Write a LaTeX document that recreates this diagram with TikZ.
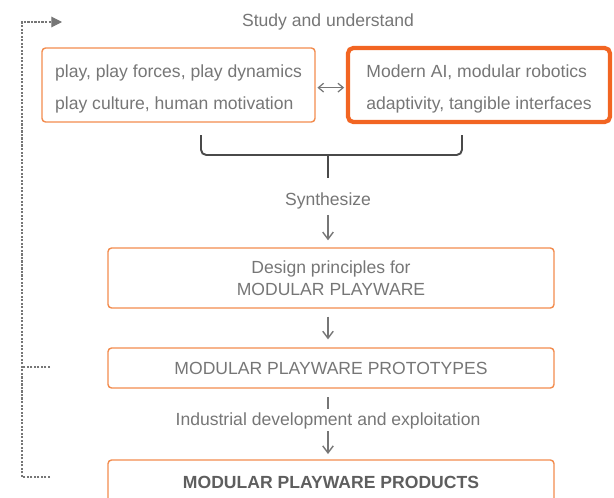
\documentclass[tikz,border=0pt]{standalone}
\usepackage{fontspec}
\setmainfont{Liberation Sans}
\usetikzlibrary{arrows.meta}
\definecolor{borde}{HTML}{F28C4E}
\definecolor{bordefuerte}{HTML}{F26522}
\definecolor{texto}{HTML}{767676}
\definecolor{llave}{HTML}{4A4A4A}
\begin{document}
\begin{tikzpicture}[x=0.02cm,y=-0.02cm,
    caja/.style={draw=borde, line width=0.8pt, rounded corners=2pt, text=texto, align=center, inner sep=0pt},
    etiqueta/.style={text=texto, inner sep=0pt, font=\fontsize{10}{12}\selectfont},
    flecha/.style={draw=texto, line width=0.8pt, -{Straight Barb[length=4pt,width=6pt]}},
    retro/.style={draw=texto, line width=0.6pt, dash pattern=on 1.2pt off 0.8pt}]
    \useasboundingbox (0,0) rectangle (614,497); %limites de la imagen
    \clip (0,0) rectangle (614,497);
    \node[etiqueta] (estudio) at (328,22) {Study and understand}; %titulo superior
    \node[caja, minimum width=5.46cm, minimum height=1.48cm, align=left, text height=30pt, font=\fontsize{10}{18}\selectfont] (juego) at (178.5,85) {play, play forces, play dynamics\\play culture, human motivation}; %caja izquierda
    \node[caja, draw=bordefuerte, line width=2.4pt, rounded corners=3pt, minimum width=5.24cm, minimum height=1.48cm, align=left, text height=30pt, font=\fontsize{10}{18}\selectfont] (tecno) at (479,85) {Modern AI, modular robotics\\adaptivity, tangible interfaces}; %caja derecha
    \draw[texto, line width=0.7pt, {Straight Barb[length=3pt,width=5pt]}-{Straight Barb[length=3pt,width=5pt]}, shorten <=1pt, shorten >=1pt] ([yshift=-1.5pt]juego.east) -- ([yshift=-1.5pt]tecno.west); %flecha doble
    \coordinate (llavepunta) at (328,178); %punta de la llave
    \draw[llave, line width=1.1pt, rounded corners=3pt] (201,135) -- (201,155) -- (462,155) -- (462,135); %llave
    \draw[llave, line width=1.1pt] (328,155) -- (llavepunta); %pico de la llave
    \node[etiqueta] (sintesis) at (328,201) {Synthesize}; %label sintesis
    \node[caja, minimum width=8.92cm, minimum height=1.2cm, font=\fontsize{10}{12.5}\selectfont] (principios) at (331,278) {Design principles for\\MODULAR PLAYWARE}; %caja principios
    \node[caja, minimum width=8.92cm, minimum height=0.8cm, font=\fontsize{10}{12}\selectfont] (prototipos) at (331,368) {MODULAR PLAYWARE PROTOTYPES}; %caja prototipos
    \node[etiqueta] (industria) at (328,421) {Industrial development and exploitation}; %label industria
    \node[caja, minimum width=8.92cm, minimum height=0.9cm, font=\fontsize{10}{12}\selectfont\bfseries, text=texto!80!black] (productos) at (331,482.5) {MODULAR PLAYWARE PRODUCTS}; %caja productos
    \draw[flecha, shorten <=3pt, shorten >=4pt] (sintesis.south) -- (sintesis.south |- principios.north); %flecha a principios
    \draw[flecha, shorten <=4.5pt, shorten >=4.5pt] (principios.south -| sintesis) -- (prototipos.north -| sintesis); %flecha a prototipos
    \draw[draw=texto, line width=0.8pt, shorten <=5pt, shorten >=2pt] (prototipos.south -| industria) -- (industria.north); %linea corta
    \draw[flecha, shorten <=1pt, shorten >=3pt] (industria.south) -- (industria.south |- productos.north); %flecha a productos
    \coordinate (retroabajo) at (50,477); %inicio de la realimentacion
    \coordinate (retromedio) at (50,367); %rama de prototipos
    \coordinate (retroarriba) at (62,22); %fin de la realimentacion
    \draw[retro, -{Triangle[length=6pt,width=6pt]}] (retroabajo) -| (22,22) -- (retroarriba); %linea de realimentacion
    \draw[retro] (retromedio) -- (22,367); %rama
\end{tikzpicture}
\end{document}
